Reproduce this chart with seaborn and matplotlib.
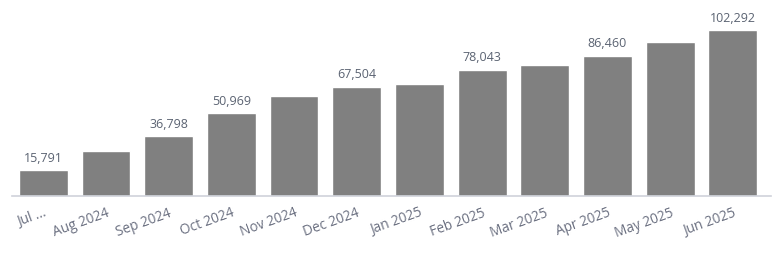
import matplotlib
matplotlib.use("Agg")
import matplotlib.pyplot as plt
import seaborn as sns

months = ["Jul ...", "Aug 2024", "Sep 2024", "Oct 2024", "Nov 2024", "Dec 2024",
          "Jan 2025", "Feb 2025", "Mar 2025", "Apr 2025", "May 2025", "Jun 2025"]
values = [15791, 27580, 36798, 50969, 61540, 67504,
          68950, 78043, 80680, 86460, 94880, 102292]
shown = [True, False, True, True, False, True,
         False, True, False, True, False, True]

sns.set_theme(style="white")
plt.rcParams["font.family"] = ["Open Sans", "DejaVu Sans"]

fig = plt.figure(figsize=(7.72, 2.57), dpi=100)
ax = fig.add_axes([12 / 772, 61 / 257, 759 / 772, 196 / 257])

sns.barplot(x=months, y=values, color="#808080", saturation=1, width=0.78, ax=ax)

labels = [f"{v:,}" if s else "" for v, s in zip(values, shown)]
ax.bar_label(ax.containers[0], labels=labels, padding=4, fontsize=9, color="#5b6372")

ax.set_ylim(0, 121000)
ax.set_xlim(-0.5, 11.61)
for side in ["left", "right", "top"]:
    ax.spines[side].set_visible(False)
ax.spines["bottom"].set_color("#cfd2da")
ax.spines["bottom"].set_linewidth(1.2)
ax.set_yticks([])
ax.tick_params(axis="x", length=0, pad=7, labelsize=9.8, labelcolor="#6a6f80")
for lbl in ax.get_xticklabels():
    lbl.set_rotation(20)
    lbl.set_ha("right")
    lbl.set_rotation_mode("anchor")
ax.set_xlabel("")
ax.set_ylabel("")

fig.savefig("out.png", dpi=100)
